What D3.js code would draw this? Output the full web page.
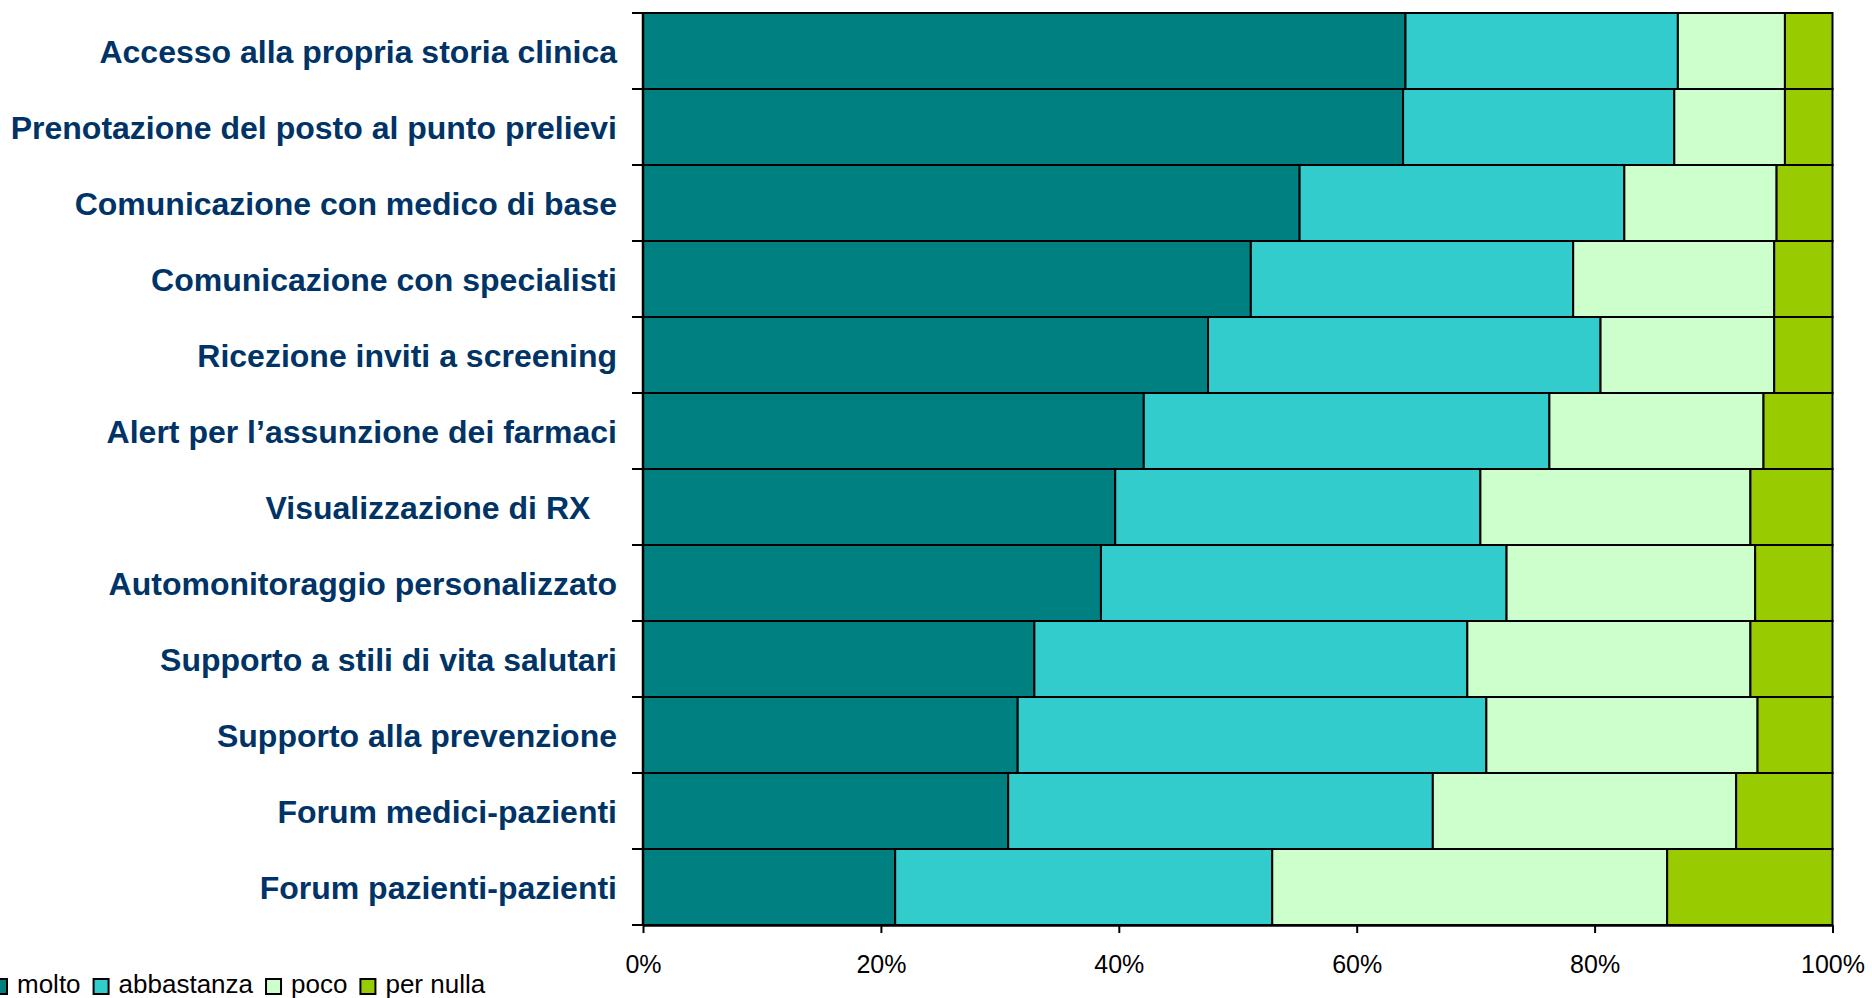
<!DOCTYPE html>
<html>
<head>
<meta charset="utf-8">
<script src="https://cdn.jsdelivr.net/npm/d3@7"></script>
<style>
  html, body { margin: 0; padding: 0; background: #fff; }
  svg { display: block; }
</style>
</head>
<body>
<svg id="chart" width="1872" height="998"></svg>
<script>
const categories = [
  "Accesso alla propria storia clinica",
  "Prenotazione del posto al punto prelievi",
  "Comunicazione con medico di base",
  "Comunicazione con specialisti",
  "Ricezione inviti a screening",
  "Alert per l\u2019assunzione dei farmaci",
  "Visualizzazione di RX   ",
  "Automonitoraggio personalizzato",
  "Supporto a stili di vita salutari",
  "Supporto alla prevenzione",
  "Forum medici-pazienti",
  "Forum pazienti-pazienti"
];
const seriesNames = ["molto", "abbastanza", "poco", "per nulla"];
const molto      = [64.1, 63.9, 55.2, 51.1, 47.5, 42.1, 39.7, 38.5, 32.9, 31.5, 30.7, 21.2];
const abbastanza = [22.9, 22.8, 27.3, 27.1, 33.0, 34.1, 30.7, 34.1, 36.4, 39.4, 35.7, 31.7];
const poco       = [ 9.0,  9.3, 12.8, 16.9, 14.6, 18.0, 22.7, 20.9, 23.8, 22.8, 25.5, 33.2];
const perNulla   = [ 4.0,  4.0,  4.7,  4.9,  4.9,  5.8,  6.9,  6.5,  6.9,  6.3,  8.1, 13.9];
const tickValues = [0, 20, 40, 60, 80, 100];
const colors = ["#008080", "#33CCCC", "#CCFFCC", "#99CC00"];

(function () {
const rows = categories.map((c, i) => ({
  cat: c, molto: molto[i], abbastanza: abbastanza[i], poco: poco[i], "per nulla": perNulla[i]
}));

const svg = d3.select("#chart");
const pLeft = 643, pRight = 1832.5, pTop = 13, pBottom = 925;

const x = d3.scaleLinear().domain([0, 100]).range([pLeft, pRight]);
const y = d3.scaleBand().domain(categories).range([pTop, pBottom]).padding(0);
const color = d3.scaleOrdinal().domain(seriesNames).range(colors);

const stack = d3.stack().keys(seriesNames)(rows);

svg.append("g").selectAll("g").data(stack).join("g")
  .attr("fill", d => color(d.key))
  .selectAll("rect").data(d => d).join("rect")
  .attr("x", d => x(d[0]))
  .attr("y", d => y(d.data.cat))
  .attr("width", d => x(d[1]) - x(d[0]))
  .attr("height", y.bandwidth())
  .attr("stroke", "#000")
  .attr("stroke-width", 2);

// left axis line and ticks at band boundaries
const bounds = categories.map(c => y(c)).concat([pBottom]);
const ga = svg.append("g");
ga.append("line").attr("x1", pLeft).attr("x2", pLeft).attr("y1", pTop).attr("y2", pBottom)
  .attr("stroke", "#000").attr("stroke-width", 2.5);
ga.selectAll("line.t").data(bounds).join("line").attr("class", "t")
  .attr("x1", pLeft - 11).attr("x2", pLeft).attr("y1", d => d).attr("y2", d => d)
  .attr("stroke", "#000").attr("stroke-width", 2);

// category labels
svg.append("g").selectAll("text").data(categories).join("text")
  .attr("x", 617)
  .attr("y", d => y(d) + y.bandwidth() / 2 + 11.5)
  .attr("text-anchor", "end")
  .attr("font-family", "'Liberation Sans', Arial, sans-serif")
  .attr("font-weight", "bold")
  .attr("font-size", 32)
  .attr("fill", "#003366")
  .style("white-space", "pre")
  .text(d => d);

// bottom axis
const xAxis = d3.axisBottom(x).tickValues(tickValues).tickSize(8).tickSizeOuter(0)
  .tickFormat(d => d + "%");
const gx = svg.append("g").attr("transform", `translate(0,${pBottom})`).call(xAxis);
gx.select(".domain").attr("stroke", "#000").attr("stroke-width", 2.5);
gx.selectAll(".tick line").attr("stroke", "#000").attr("stroke-width", 2);
gx.selectAll(".tick text")
  .attr("y", 48).attr("dy", 0)
  .attr("font-family", "'Liberation Sans', Arial, sans-serif")
  .attr("font-size", 25)
  .attr("fill", "#000");

// legend
const lg = svg.append("g");
let lx = -8;
seriesNames.forEach((name) => {
  lg.append("rect").attr("x", lx).attr("y", 979).attr("width", 15).attr("height", 15)
    .attr("fill", color(name)).attr("stroke", "#000").attr("stroke-width", 2);
  const t = lg.append("text").attr("x", lx + 25).attr("y", 993)
    .attr("font-family", "'Liberation Sans', Arial, sans-serif")
    .attr("font-size", 26).attr("fill", "#000").text(name);
  lx = lx + 25 + t.node().getComputedTextLength() + 13;
});
})();
</script>
</body>
</html>
